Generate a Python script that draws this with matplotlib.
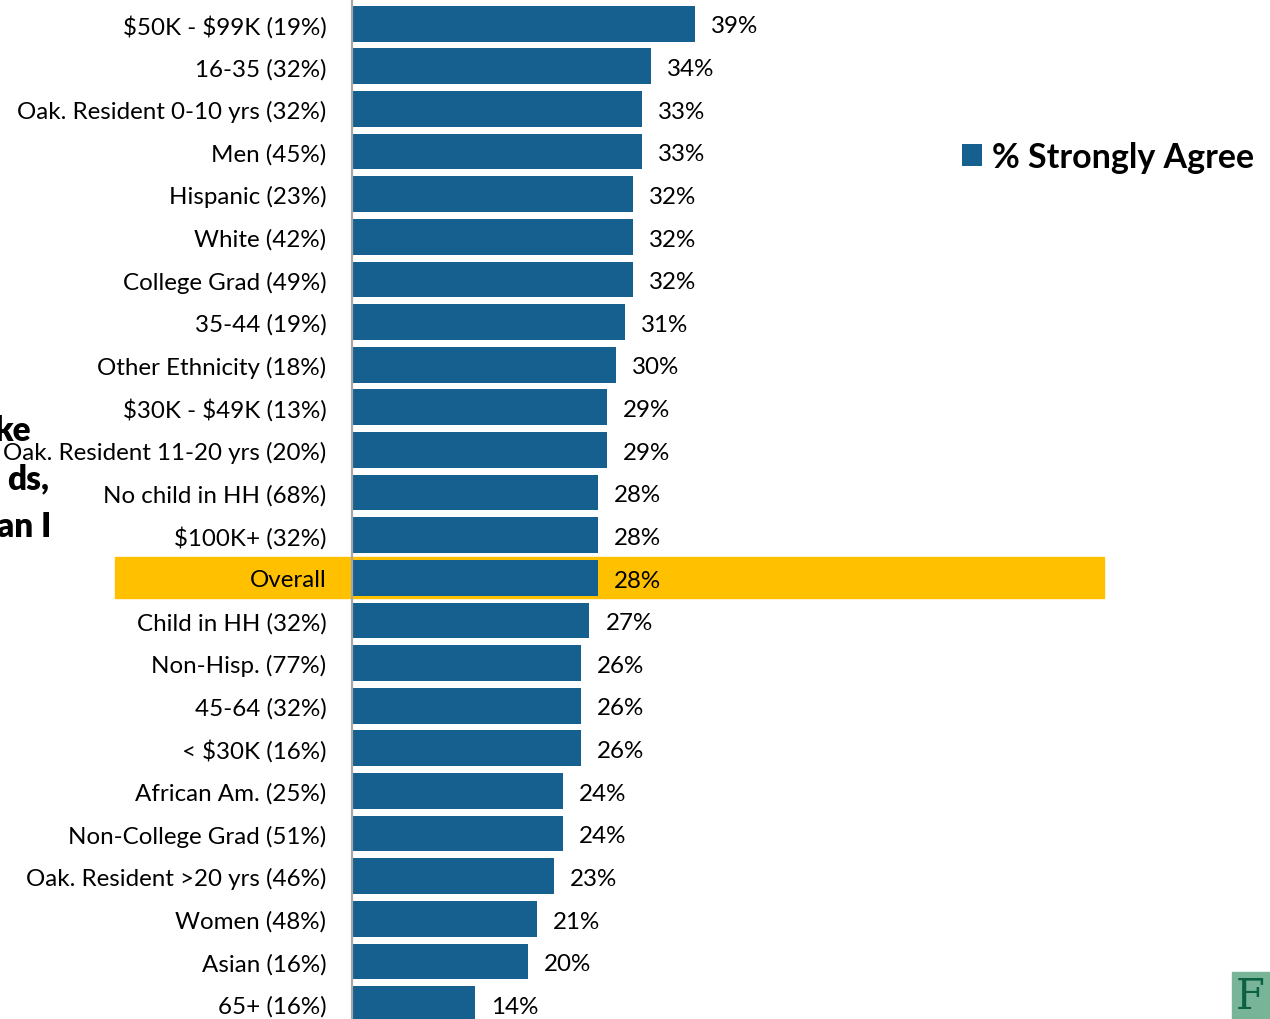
import matplotlib
matplotlib.use("Agg")
import matplotlib.pyplot as plt
from matplotlib.patches import Rectangle
from matplotlib.transforms import blended_transform_factory

plt.rcParams["text.parse_math"] = False

categories = [
    "$50K - $99K (19%)", "16-35 (32%)", "Oak. Resident 0-10 yrs (32%)",
    "Men (45%)", "Hispanic (23%)", "White (42%)", "College Grad (49%)",
    "35-44 (19%)", "Other Ethnicity (18%)", "$30K - $49K (13%)",
    "Oak. Resident 11-20 yrs (20%)", "No child in HH (68%)", "$100K+ (32%)",
    "Overall", "Child in HH (32%)", "Non-Hisp. (77%)", "45-64 (32%)",
    "< $30K (16%)", "African Am. (25%)", "Non-College Grad (51%)",
    "Oak. Resident >20 yrs (46%)", "Women (48%)", "Asian (16%)", "65+ (16%)",
]
strongly_agree = [39, 34, 33, 33, 32, 32, 32, 31, 30, 29, 29, 28, 28,
                  28, 27, 26, 26, 26, 24, 24, 23, 21, 20, 14]
highlight = "Overall"
series_name = "% Strongly Agree"

BLUE = "#15608f"
GOLD = "#ffc000"
FONT = "Lato"

W, H = 1270, 1020
fig = plt.figure(figsize=(W / 100, H / 100), dpi=100)
ax = fig.add_axes([352 / W, 0, (1104 - 352) / W, 1])

y = list(range(len(categories)))
bars = ax.barh(y, strongly_agree, height=0.84, color=BLUE, label=series_name,
               zorder=3)

ax.set_xlim(0, 85.5)
ax.set_ylim(23.35, -0.58)

# highlight band behind the overall row, running under the tick label too
hi = categories.index(highlight)
trans = blended_transform_factory(fig.transFigure, ax.transData)
ax.add_patch(Rectangle((115 / W, hi - 0.49), (1104 - 115) / W, 0.97,
                       transform=trans, color=GOLD, clip_on=False, zorder=1))

for yi, v in zip(y, strongly_agree):
    ax.annotate(f"{v}%", (v, yi), xytext=(11.5, -1.6), textcoords="offset points",
                ha="left", va="center", fontsize=17.4, family=FONT,
                color="black", zorder=4)

ax.set_yticks(y)
ax.set_yticklabels(categories, fontsize=17.4, family=FONT)
for lab in ax.get_yticklabels():
    lab.set_y(lab.get_position()[1])
ax.tick_params(axis="y", length=0, pad=18.5)
ax.set_xticks([])
for side in ("top", "right", "bottom"):
    ax.spines[side].set_visible(False)
ax.spines["left"].set_color("#a6a6a6")
ax.spines["left"].set_linewidth(1.6)
ax.spines["left"].set_zorder(5)

fig.legend(handles=[bars], labels=[series_name], loc="center left",
           bbox_to_anchor=(931 / W, 1 - 158 / H), frameon=False,
           handlelength=0.6, handleheight=0.6, handletextpad=0.3,
           prop={"family": FONT, "weight": "bold", "size": 24.5})

# clipped question text on the left edge
for txt, xr, yb in [("ke", 31, 441), ("ds,", 49, 489), ("an I", 51, 537)]:
    fig.text(xr / W, 1 - yb / H, txt, ha="right", va="baseline",
             fontsize=24, weight="heavy", family=FONT, zorder=0)

# corner logo
fig.patches.append(Rectangle((1232 / W, 0), (W - 1232) / W, 47 / H,
                             transform=fig.transFigure, color="#78b497"))
fig.text(1236 / W, 1 - 976 / H, "F", ha="left", va="top", fontsize=30,
         family="DejaVu Serif", color="#0b6142")

fig.savefig("out.png", dpi=100)
